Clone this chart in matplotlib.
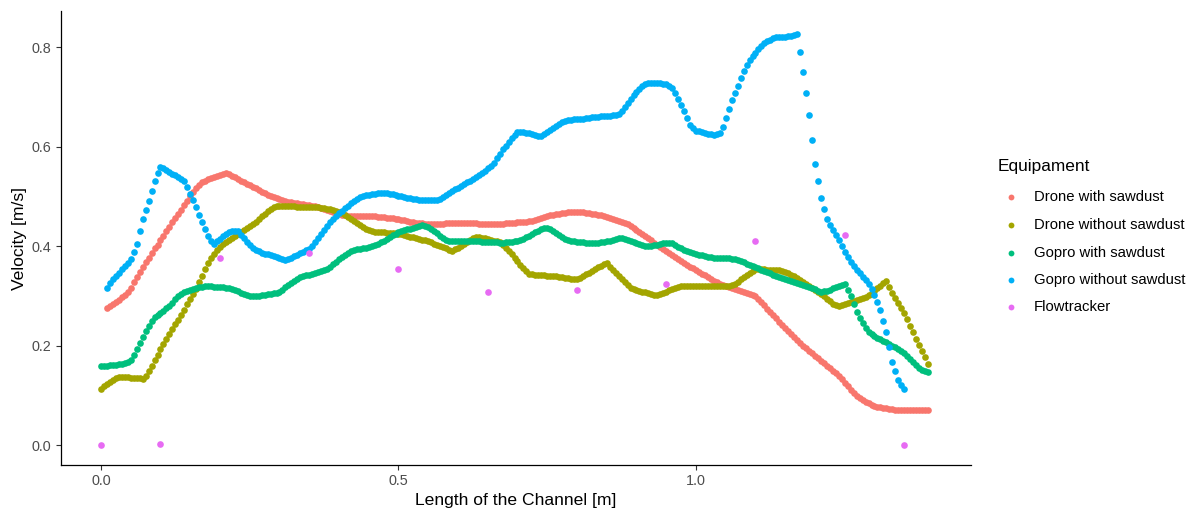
import numpy as np
import matplotlib
matplotlib.use("Agg")
import matplotlib.pyplot as plt
from matplotlib.lines import Line2D

plt.rcParams['font.family'] = ['Liberation Sans', 'DejaVu Sans']

# ---------------------------------------------------------------
# Surface velocity along the channel, sampled every STEP metres
# (one row below = 0.1 m of channel)
# ---------------------------------------------------------------
STEP = 0.005

drone_saw_start = 0.01
drone_saw_v = [
    0.276, 0.279, 0.283, 0.287, 0.292, 0.297, 0.302, 0.308, 0.316, 0.327, 0.338, 0.348, 0.358, 0.367, 0.376, 0.386, 0.395, 0.403, 0.412, 0.421,
    0.430, 0.439, 0.448, 0.456, 0.465, 0.473, 0.482, 0.491, 0.500, 0.508, 0.516, 0.522, 0.528, 0.531, 0.534, 0.537, 0.539, 0.541, 0.543, 0.545,
    0.546, 0.544, 0.541, 0.538, 0.534, 0.531, 0.528, 0.525, 0.522, 0.519, 0.516, 0.512, 0.509, 0.506, 0.503, 0.500, 0.498, 0.496, 0.494, 0.492,
    0.491, 0.489, 0.488, 0.487, 0.486, 0.485, 0.484, 0.483, 0.482, 0.481, 0.480, 0.479, 0.477, 0.475, 0.473, 0.470, 0.468, 0.466, 0.464, 0.463,
    0.462, 0.461, 0.461, 0.460, 0.460, 0.460, 0.460, 0.460, 0.460, 0.460, 0.460, 0.459, 0.459, 0.458, 0.457, 0.456, 0.456, 0.455, 0.455, 0.453,
    0.452, 0.450, 0.449, 0.448, 0.447, 0.446, 0.446, 0.445, 0.445, 0.445, 0.445, 0.445, 0.445, 0.445, 0.446, 0.446, 0.446, 0.446, 0.446, 0.446,
    0.447, 0.447, 0.447, 0.447, 0.446, 0.445, 0.445, 0.445, 0.445, 0.445, 0.445, 0.445, 0.445, 0.445, 0.446, 0.446, 0.447, 0.447, 0.448, 0.448,
    0.449, 0.449, 0.450, 0.451, 0.453, 0.455, 0.457, 0.459, 0.461, 0.462, 0.463, 0.464, 0.465, 0.466, 0.467, 0.468, 0.469, 0.469, 0.469, 0.469,
    0.468, 0.467, 0.466, 0.465, 0.464, 0.463, 0.462, 0.461, 0.459, 0.457, 0.455, 0.453, 0.451, 0.449, 0.447, 0.444, 0.440, 0.436, 0.432, 0.428,
    0.424, 0.420, 0.416, 0.412, 0.407, 0.403, 0.398, 0.394, 0.389, 0.385, 0.381, 0.377, 0.373, 0.369, 0.365, 0.362, 0.358, 0.355, 0.351, 0.348,
    0.344, 0.341, 0.337, 0.334, 0.330, 0.327, 0.323, 0.321, 0.319, 0.317, 0.315, 0.313, 0.311, 0.309, 0.307, 0.305, 0.303, 0.301, 0.299, 0.293,
    0.287, 0.281, 0.274, 0.268, 0.261, 0.255, 0.248, 0.242, 0.236, 0.230, 0.224, 0.218, 0.211, 0.205, 0.199, 0.194, 0.189, 0.184, 0.179, 0.174,
    0.169, 0.164, 0.159, 0.154, 0.149, 0.144, 0.139, 0.132, 0.125, 0.118, 0.111, 0.105, 0.099, 0.095, 0.091, 0.087, 0.084, 0.081, 0.079, 0.077,
    0.076, 0.075, 0.074, 0.073, 0.072, 0.071, 0.071, 0.071, 0.071, 0.070, 0.070, 0.070, 0.070, 0.070, 0.070, 0.070, 0.070,
]

drone_nosaw_start = 0.00
drone_nosaw_v = [
    0.113, 0.118, 0.122, 0.127, 0.131, 0.135, 0.137, 0.137, 0.136, 0.136, 0.135, 0.135, 0.134, 0.134, 0.133, 0.139, 0.148, 0.159, 0.170, 0.181,
    0.192, 0.203, 0.213, 0.223, 0.233, 0.243, 0.252, 0.262, 0.272, 0.283, 0.293, 0.304, 0.314, 0.327, 0.340, 0.353, 0.365, 0.375, 0.384, 0.392,
    0.399, 0.404, 0.408, 0.412, 0.416, 0.420, 0.424, 0.428, 0.432, 0.436, 0.440, 0.445, 0.449, 0.455, 0.460, 0.465, 0.470, 0.475, 0.479, 0.480,
    0.480, 0.480, 0.480, 0.480, 0.480, 0.480, 0.479, 0.479, 0.479, 0.479, 0.478, 0.478, 0.478, 0.478, 0.477, 0.476, 0.475, 0.474, 0.472, 0.471,
    0.469, 0.466, 0.462, 0.459, 0.455, 0.451, 0.447, 0.443, 0.439, 0.435, 0.432, 0.430, 0.429, 0.429, 0.428, 0.428, 0.427, 0.427, 0.426, 0.426,
    0.425, 0.424, 0.422, 0.421, 0.419, 0.418, 0.416, 0.415, 0.413, 0.412, 0.410, 0.408, 0.405, 0.403, 0.400, 0.398, 0.395, 0.392, 0.390, 0.393,
    0.397, 0.401, 0.405, 0.409, 0.412, 0.416, 0.419, 0.418, 0.417, 0.416, 0.414, 0.413, 0.411, 0.410, 0.408, 0.403, 0.397, 0.390, 0.383, 0.376,
    0.369, 0.362, 0.356, 0.350, 0.344, 0.343, 0.342, 0.342, 0.341, 0.341, 0.340, 0.340, 0.339, 0.339, 0.338, 0.337, 0.336, 0.335, 0.334, 0.334,
    0.333, 0.336, 0.339, 0.343, 0.346, 0.350, 0.353, 0.357, 0.360, 0.363, 0.365, 0.358, 0.352, 0.346, 0.340, 0.333, 0.327, 0.321, 0.315, 0.314,
    0.312, 0.310, 0.308, 0.307, 0.305, 0.303, 0.301, 0.302, 0.303, 0.306, 0.308, 0.311, 0.313, 0.316, 0.318, 0.319, 0.320, 0.320, 0.320, 0.320,
    0.320, 0.320, 0.320, 0.320, 0.320, 0.320, 0.320, 0.320, 0.320, 0.320, 0.320, 0.320, 0.321, 0.324, 0.328, 0.333, 0.337, 0.342, 0.346, 0.350,
    0.353, 0.353, 0.353, 0.353, 0.352, 0.352, 0.352, 0.352, 0.351, 0.350, 0.348, 0.345, 0.342, 0.339, 0.335, 0.332, 0.328, 0.324, 0.320, 0.316,
    0.312, 0.308, 0.304, 0.299, 0.294, 0.289, 0.284, 0.282, 0.280, 0.281, 0.283, 0.285, 0.287, 0.289, 0.291, 0.293, 0.295, 0.298, 0.301, 0.305,
    0.310, 0.315, 0.320, 0.325, 0.330, 0.318, 0.306, 0.296, 0.285, 0.275, 0.265, 0.253, 0.240, 0.227, 0.214, 0.202, 0.189, 0.176, 0.163,
]

gopro_saw_start = 0.00
gopro_saw_v = [
    0.159, 0.159, 0.159, 0.160, 0.160, 0.161, 0.162, 0.163, 0.165, 0.167, 0.171, 0.181, 0.192, 0.205, 0.217, 0.229, 0.240, 0.250, 0.258, 0.262,
    0.266, 0.270, 0.275, 0.280, 0.286, 0.293, 0.299, 0.303, 0.307, 0.309, 0.311, 0.313, 0.315, 0.317, 0.318, 0.319, 0.319, 0.319, 0.318, 0.318,
    0.317, 0.317, 0.316, 0.315, 0.314, 0.312, 0.309, 0.306, 0.304, 0.302, 0.300, 0.300, 0.300, 0.300, 0.301, 0.302, 0.303, 0.304, 0.305, 0.306,
    0.308, 0.312, 0.317, 0.322, 0.326, 0.330, 0.334, 0.337, 0.339, 0.341, 0.342, 0.343, 0.345, 0.347, 0.349, 0.351, 0.354, 0.358, 0.363, 0.368,
    0.373, 0.378, 0.382, 0.386, 0.389, 0.391, 0.393, 0.394, 0.396, 0.397, 0.399, 0.400, 0.402, 0.405, 0.408, 0.411, 0.415, 0.418, 0.422, 0.425,
    0.428, 0.430, 0.432, 0.434, 0.435, 0.437, 0.438, 0.440, 0.442, 0.441, 0.439, 0.435, 0.430, 0.426, 0.421, 0.417, 0.413, 0.411, 0.410, 0.410,
    0.410, 0.410, 0.410, 0.410, 0.410, 0.410, 0.410, 0.410, 0.409, 0.409, 0.408, 0.408, 0.408, 0.408, 0.407, 0.407, 0.408, 0.408, 0.409, 0.410,
    0.411, 0.413, 0.415, 0.418, 0.421, 0.425, 0.428, 0.431, 0.434, 0.436, 0.437, 0.434, 0.430, 0.426, 0.422, 0.418, 0.415, 0.413, 0.411, 0.410,
    0.409, 0.408, 0.408, 0.407, 0.407, 0.407, 0.407, 0.407, 0.408, 0.409, 0.410, 0.411, 0.413, 0.415, 0.416, 0.416, 0.415, 0.413, 0.411, 0.408,
    0.406, 0.404, 0.402, 0.401, 0.400, 0.401, 0.402, 0.403, 0.405, 0.406, 0.407, 0.407, 0.406, 0.403, 0.399, 0.395, 0.392, 0.390, 0.388, 0.386,
    0.384, 0.382, 0.381, 0.379, 0.378, 0.377, 0.376, 0.375, 0.375, 0.375, 0.375, 0.375, 0.374, 0.373, 0.372, 0.370, 0.367, 0.364, 0.362, 0.360,
    0.357, 0.355, 0.352, 0.350, 0.347, 0.345, 0.342, 0.340, 0.337, 0.335, 0.333, 0.331, 0.329, 0.327, 0.325, 0.323, 0.321, 0.319, 0.317, 0.315,
    0.313, 0.310, 0.308, 0.309, 0.310, 0.312, 0.315, 0.317, 0.319, 0.321, 0.323, 0.312, 0.300, 0.284, 0.268, 0.256, 0.245, 0.236, 0.228, 0.223,
    0.219, 0.216, 0.213, 0.210, 0.207, 0.204, 0.200, 0.196, 0.192, 0.188, 0.184, 0.178, 0.172, 0.166, 0.160, 0.155, 0.150, 0.148, 0.147,
]

gopro_nosaw_start = 0.01
gopro_nosaw_v = [
    0.315, 0.326, 0.334, 0.340, 0.346, 0.353, 0.360, 0.366, 0.374, 0.388, 0.405, 0.430, 0.455, 0.472, 0.490, 0.511, 0.530, 0.546, 0.558, 0.556,
    0.553, 0.549, 0.545, 0.542, 0.539, 0.535, 0.530, 0.518, 0.505, 0.492, 0.478, 0.463, 0.448, 0.434, 0.420, 0.411, 0.405, 0.410, 0.415, 0.420,
    0.424, 0.428, 0.430, 0.430, 0.430, 0.423, 0.416, 0.409, 0.402, 0.397, 0.392, 0.389, 0.386, 0.384, 0.383, 0.381, 0.379, 0.377, 0.375, 0.373,
    0.371, 0.373, 0.376, 0.379, 0.382, 0.385, 0.388, 0.391, 0.394, 0.401, 0.408, 0.416, 0.424, 0.432, 0.440, 0.448, 0.455, 0.461, 0.466, 0.471,
    0.476, 0.481, 0.486, 0.491, 0.495, 0.498, 0.501, 0.502, 0.503, 0.504, 0.505, 0.506, 0.506, 0.506, 0.506, 0.505, 0.504, 0.503, 0.501, 0.500,
    0.498, 0.497, 0.496, 0.495, 0.494, 0.493, 0.493, 0.493, 0.493, 0.493, 0.493, 0.493, 0.494, 0.498, 0.502, 0.506, 0.510, 0.514, 0.517, 0.521,
    0.524, 0.528, 0.531, 0.535, 0.539, 0.543, 0.547, 0.551, 0.556, 0.561, 0.566, 0.576, 0.585, 0.594, 0.602, 0.610, 0.618, 0.624, 0.630, 0.630,
    0.630, 0.628, 0.627, 0.625, 0.623, 0.622, 0.622, 0.626, 0.630, 0.634, 0.638, 0.642, 0.646, 0.649, 0.652, 0.653, 0.654, 0.655, 0.655, 0.656,
    0.656, 0.657, 0.658, 0.659, 0.660, 0.660, 0.661, 0.661, 0.662, 0.662, 0.663, 0.664, 0.665, 0.672, 0.680, 0.688, 0.696, 0.703, 0.710, 0.716,
    0.722, 0.725, 0.727, 0.728, 0.728, 0.728, 0.727, 0.726, 0.725, 0.722, 0.718, 0.707, 0.695, 0.684, 0.672, 0.657, 0.643, 0.637, 0.632, 0.631,
    0.630, 0.628, 0.626, 0.625, 0.624, 0.625, 0.628, 0.640, 0.657, 0.675, 0.693, 0.708, 0.722, 0.737, 0.752, 0.764, 0.774, 0.781, 0.788, 0.796,
    0.803, 0.808, 0.812, 0.815, 0.818, 0.820, 0.821, 0.821, 0.821, 0.822, 0.823, 0.825, 0.826, 0.790, 0.750, 0.707, 0.663, 0.614, 0.565, 0.530,
    0.497, 0.474, 0.455, 0.443, 0.432, 0.422, 0.412, 0.400, 0.388, 0.378, 0.368, 0.360, 0.352, 0.345, 0.338, 0.331, 0.323, 0.313, 0.301, 0.288,
    0.272, 0.250, 0.228, 0.197, 0.167, 0.148, 0.130, 0.120, 0.112,
]

# Point measurements from the acoustic flow tracker
flowtracker_x = [0.0, 0.1, 0.2, 0.35, 0.5, 0.65, 0.8, 0.95, 1.1, 1.25, 1.35]
flowtracker_v = [0.0, 0.002, 0.376, 0.386, 0.354, 0.308, 0.312, 0.324, 0.411, 0.422, 0.0]

labels = ["Drone with sawdust", "Drone without sawdust", "Gopro with sawdust",
          "Gopro without sawdust", "Flowtracker"]
colors = ["#F8766D", "#A3A500", "#00BF7D", "#00B0F6", "#E76BF3"]

x_ticks = [0.0, 0.5, 1.0]
y_ticks = [0.0, 0.2, 0.4, 0.6, 0.8]


def positions(start, values):
    return start + STEP * np.arange(len(values))


series = [
    (positions(drone_saw_start, drone_saw_v), drone_saw_v),
    (positions(drone_nosaw_start, drone_nosaw_v), drone_nosaw_v),
    (positions(gopro_saw_start, gopro_saw_v), gopro_saw_v),
    (positions(gopro_nosaw_start, gopro_nosaw_v), gopro_nosaw_v),
    (np.array(flowtracker_x), flowtracker_v),
]

W, H = 1196, 515
fig = plt.figure(figsize=(W / 100, H / 100), dpi=100)
fig.patch.set_facecolor("white")

ax_l, ax_r, ax_b, ax_t = 61, 971, 465, 11
ax = fig.add_axes([ax_l / W, (H - ax_b) / H, (ax_r - ax_l) / W, (ax_b - ax_t) / H])

for (xs, vs), c in zip(series, colors):
    ax.scatter(xs, vs, s=23, color=c, linewidths=0, zorder=3)

ax.set_xlim(-0.0672, 1.4622)
ax.set_ylim(-0.0402, 0.8724)
ax.set_xticks(x_ticks)
ax.set_xticklabels([f"{t:.1f}" for t in x_ticks])
ax.set_yticks(y_ticks)
ax.set_yticklabels([f"{t:.1f}" for t in y_ticks])

for side in ("top", "right"):
    ax.spines[side].set_visible(False)
for side in ("left", "bottom"):
    ax.spines[side].set_color("black")
    ax.spines[side].set_linewidth(0.9)

ax.tick_params(axis="both", which="major", length=3.8, width=0.8,
               color="#333333", labelcolor="#4D4D4D", labelsize=10.4, pad=3)

ax.set_xlabel("Length of the Channel [m]", fontsize=12.6, color="black", va="center")
ax.set_ylabel("Velocity [m/s]", fontsize=12.6, color="black", va="center")
ax.xaxis.set_label_coords(0.5, (ax_b - 500) / (ax_b - ax_t))
ax.yaxis.set_label_coords((20 - ax_l) / (ax_r - ax_l), 0.5)

# Legend on the right side
fig.text(998 / W, 1 - 167 / H, "Equipament", fontsize=12.4, color="black",
         ha="left", va="center")
row_y = [197, 225, 253, 280, 307]
for lab, c, yy in zip(labels, colors, row_y):
    fig.add_artist(Line2D([1011 / W], [1 - yy / H], marker="o", markersize=4.2,
                          markeredgewidth=0, color=c, linestyle="none",
                          transform=fig.transFigure))
    fig.text(1034 / W, 1 - yy / H, lab, fontsize=10.7, color="black",
             ha="left", va="center")

fig.savefig("out.png", dpi=100, facecolor="white")
